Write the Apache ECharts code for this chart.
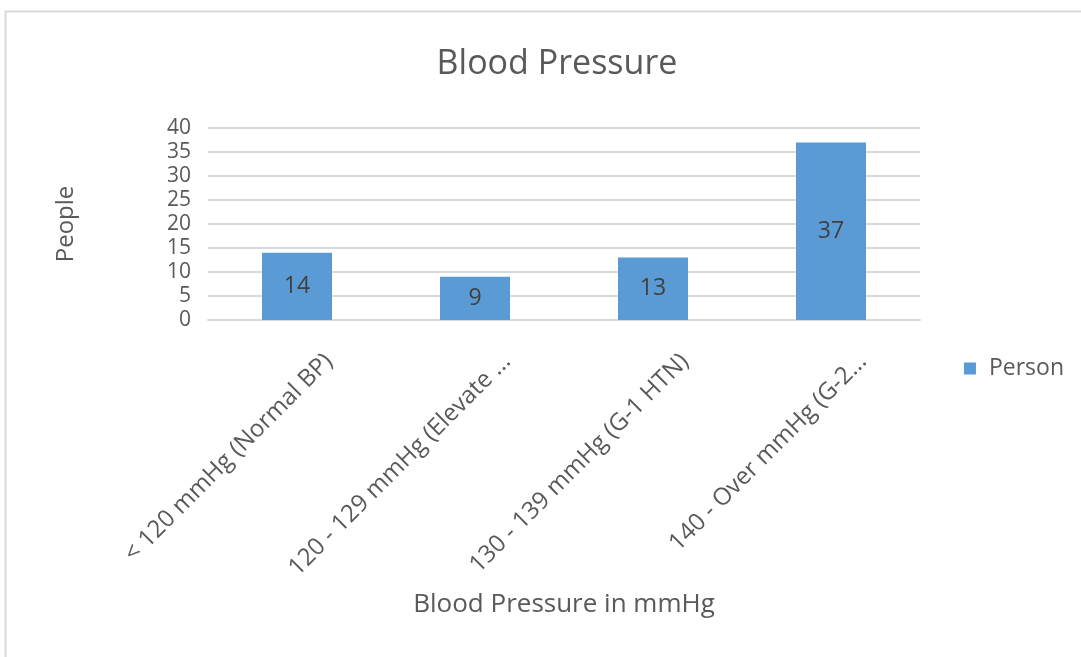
<!DOCTYPE html>
<html>
<head>
<meta charset="utf-8">
<title>Blood Pressure</title>
<script src="https://cdn.jsdelivr.net/npm/echarts@6/dist/echarts.min.js"></script>
<style>
  html, body { margin: 0; padding: 0; background: #ffffff; }
  #chart { width: 1081px; height: 657px; }
</style>
</head>
<body>
<div id="chart"></div>
<script>
// Blood pressure groups and head counts
const categories = [
  '< 120 mmHg (Normal BP)',
  '120 - 129 mmHg (Elevate ...',
  '130 - 139 mmHg (G-1 HTN)',
  '140 - Over mmHg (G-2...'
];
const personCounts = [14, 9, 13, 37];
const yTicks = { min: 0, max: 40, interval: 5 };

const FONT = '"Open Sans", "Noto Sans", sans-serif';
const TEXT = '#595959';

const chart = echarts.init(document.getElementById('chart'), null, { renderer: 'canvas' });

chart.setOption({
  backgroundColor: '#ffffff',
  animation: false,
  textStyle: { fontFamily: FONT },
  graphic: [{
    // thin outer frame of the chart area
    type: 'rect',
    shape: { x: 5.5, y: 11.5, width: 1200, height: 800 },
    style: { fill: 'none', stroke: '#d9d9d9', lineWidth: 2 },
    silent: true
  }],
  title: {
    text: 'Blood Pressure',
    left: 552,
    textAlign: 'center',
    top: 42,
    textStyle: { fontFamily: FONT, fontSize: 34, fontWeight: 'normal', color: TEXT }
  },
  legend: {
    data: ['Person'],
    right: 12,
    top: 352,
    itemWidth: 12,
    itemHeight: 12,
    itemGap: 10,
    icon: 'rect',
    textStyle: { fontFamily: FONT, fontSize: 23, color: TEXT, padding: [0, 0, 0, 8] }
  },
  grid: { left: 208, right: 161, top: 128, height: 192, containLabel: false },
  xAxis: {
    type: 'category',
    data: categories,
    name: 'Blood Pressure in mmHg',
    nameLocation: 'middle',
    nameGap: 272,
    nameMoveOverlap: false,
    nameTextStyle: { fontFamily: FONT, fontSize: 26, color: TEXT },
    axisLine: { lineStyle: { color: '#d9d9d9', width: 2 } },
    axisTick: { show: false },
    axisLabel: {
      rotate: 45,
      interval: 0,
      margin: 6,
      verticalAlign: 'top',
      lineHeight: 90,
      fontFamily: FONT,
      fontSize: 24,
      color: TEXT
    }
  },
  yAxis: {
    type: 'value',
    min: yTicks.min,
    max: yTicks.max,
    interval: yTicks.interval,
    name: 'People',
    nameLocation: 'middle',
    nameGap: 130,
    nameRotate: 90,
    nameMoveOverlap: false,
    nameTextStyle: { fontFamily: FONT, fontSize: 24, color: TEXT },
    axisLine: { show: false },
    axisTick: { show: false },
    axisLabel: { fontFamily: FONT, fontSize: 21, color: TEXT, margin: 17 },
    splitLine: { lineStyle: { color: '#d9d9d9', width: 2 } }
  },
  series: [{
    name: 'Person',
    type: 'bar',
    data: personCounts,
    barWidth: 70,
    itemStyle: { color: '#5b9bd5' },
    label: {
      show: true,
      position: 'inside',
      fontFamily: FONT,
      fontSize: 23,
      color: '#404040'
    }
  }]
});
</script>
</body>
</html>
